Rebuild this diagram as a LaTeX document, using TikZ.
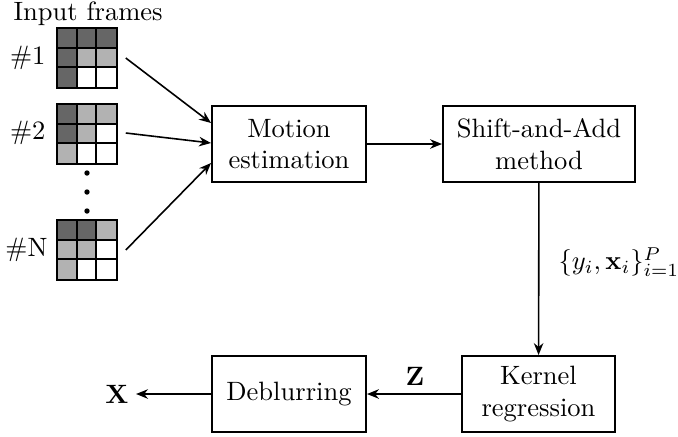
\documentclass[tikz,border=0pt]{standalone}
\usetikzlibrary{arrows.meta,calc}
\definecolor{dk}{gray}{0.40}
\definecolor{lt}{gray}{0.70}
\tikzset{
  blk/.style={draw, line width=0.75pt, align=center, inner sep=0pt, font=\normalsize},
  arr/.style={line width=0.6pt, -{Stealth[length=4.5pt,width=3.6pt]}},
  gridbox/.style={inner sep=0pt, minimum width=58.5*0.377pt, minimum height=58.5*0.377pt},
  cellline/.style={line width=0.65pt}
}
\newcommand{\pixgrid}[2]{%
  \foreach \c [count=\i from 0] in {#2} {
    \pgfmathtruncatemacro\gcol{mod(\i,3)}
    \pgfmathtruncatemacro\grow{div(\i,3)}
    \fill[\c] ($(#1.north west)+(\gcol*19.5,\grow*19.5)$) rectangle ++(19.5,19.5);
  }
  \foreach \k in {1,2} {
    \draw[cellline] ($(#1.north west)+(\k*19.5,0)$) -- ++(0,58.5);
    \draw[cellline] ($(#1.north west)+(0,\k*19.5)$) -- ++(58.5,0);
  }
  \draw[cellline] (#1.north west) rectangle (#1.south east);
}
\begin{document}
\begin{tikzpicture}[x=0.377pt,y=-0.377pt]
\useasboundingbox (0,0) rectangle (678,436);

% input label
\node[anchor=base west, inner sep=0pt] (inlab) at (13,20) {Input frames};

% frame grids
\node[gridbox] (g1) at (87,58) {};
\node[gridbox] (g2) at (87,134) {};
\node[gridbox] (gN) at (87,250) {};
\pixgrid{g1}{dk,dk,dk,dk,lt,lt,dk,white,white}
\pixgrid{g2}{dk,lt,lt,dk,lt,white,lt,white,white}
\pixgrid{gN}{dk,dk,lt,lt,lt,white,lt,white,white}

\node[anchor=east, inner sep=0pt] (l1) at (46,58) {\#1};
\node[anchor=east, inner sep=0pt] (l2) at (46,133) {\#2};
\node[anchor=east, inner sep=0pt] (lN) at (48,250) {\#N};

% dots
\fill (87,173) circle (2.7);
\fill (87,192) circle (2.7);
\fill (87,211) circle (2.7);

% blocks
\node[blk, minimum width=154*0.377pt, minimum height=76*0.377pt] (motion) at (289,144) {Motion\\estimation};
\node[blk, minimum width=192*0.377pt, minimum height=76*0.377pt] (shift) at (539,144) {Shift-and-Add\\method};
\node[blk, minimum width=153*0.377pt, minimum height=76*0.377pt] (kernel) at (538.5,394) {Kernel\\regression};
\node[blk, minimum width=154*0.377pt, minimum height=76*0.377pt] (deblur) at (289,394) {Deblurring};

\node[inner sep=0pt] (X) at (117,394) {$\mathbf{X}$};
\node[inner sep=0pt] (Z) at (415,376) {$\mathbf{Z}$};
\node[anchor=west, inner sep=0pt] (set) at (558,262) {$\{y_i,\mathbf{x}_i\}_{i=1}^P$};

% connectors
\draw[arr] ($(g1.east)+(9,0)$) -- ($(motion.west)+(0,-21)$);
\draw[arr] ($(g2.east)+(9,-1)$) -- ($(motion.west)+(0,-1)$);
\draw[arr] ($(gN.east)+(9,0)$) -- ($(motion.west)+(0,19)$);
\draw[arr] (motion) -- (shift);
\draw[arr] (shift) -- (kernel);
\draw[arr] (kernel) -- (deblur);
\draw[arr] (deblur) -- ($(X.east)+(7,0)$);
\end{tikzpicture}
\end{document}
